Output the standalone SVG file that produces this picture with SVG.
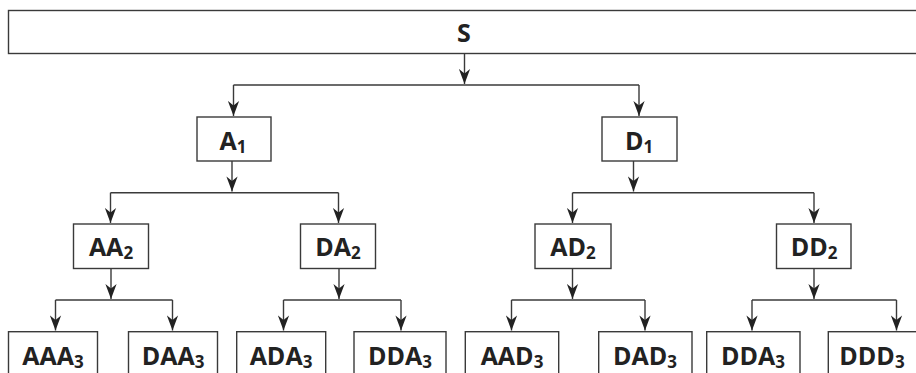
<svg xmlns="http://www.w3.org/2000/svg" width="916" height="373" viewBox="0 0 916 373">
  <style>
    .box { fill: #ffffff; stroke: #3a3a3a; stroke-width: 1.4; }
    .wire { fill: none; stroke: #3a3a3a; stroke-width: 1.4; }
    .arrow { fill: none; stroke: #3a3a3a; stroke-width: 1.4; marker-end: url(#head); }
    .label { font-family: "Open Sans", "Noto Sans", "Liberation Sans", sans-serif; font-weight: 700; font-size: 25px; fill: #222222; text-anchor: middle; }
    .sub { font-size: 17px; }
  </style>
  <defs>
    <marker id="head" viewBox="-16 -6 17 12" refX="0" refY="0" markerWidth="17" markerHeight="12" markerUnits="userSpaceOnUse" orient="auto">
      <path d="M0,0 L-15,-5.6 L-10.5,0 L-15,5.6 Z" fill="#222222"/>
    </marker>
  </defs>

  <rect width="916" height="373" fill="#ffffff"/>

  <!-- connectors -->
  <g id="connectors">
    <!-- S to level 1 -->
    <line class="arrow" x1="464.5" y1="54" x2="464.5" y2="84"/>
    <line class="wire" x1="233.5" y1="85" x2="639" y2="85"/>
    <line class="arrow" x1="233.5" y1="85" x2="233.5" y2="116"/>
    <line class="arrow" x1="639" y1="85" x2="639" y2="116"/>

    <!-- A1 to level 2 -->
    <line class="arrow" x1="232" y1="161" x2="232" y2="191.5"/>
    <line class="wire" x1="110.5" y1="192.7" x2="338.5" y2="192.7"/>
    <line class="arrow" x1="110.5" y1="192.7" x2="110.5" y2="223"/>
    <line class="arrow" x1="338.5" y1="192.7" x2="338.5" y2="223"/>

    <!-- D1 to level 2 -->
    <line class="arrow" x1="633.5" y1="161" x2="633.5" y2="191.5"/>
    <line class="wire" x1="572.5" y1="192.7" x2="814" y2="192.7"/>
    <line class="arrow" x1="572.5" y1="192.7" x2="572.5" y2="223"/>
    <line class="arrow" x1="814" y1="192.7" x2="814" y2="223"/>

    <!-- AA2 to level 3 -->
    <line class="arrow" x1="111" y1="268.5" x2="111" y2="299"/>
    <line class="wire" x1="55.5" y1="300" x2="172.5" y2="300"/>
    <line class="arrow" x1="55.5" y1="300" x2="55.5" y2="330.5"/>
    <line class="arrow" x1="172.5" y1="300" x2="172.5" y2="330.5"/>

    <!-- DA2 to level 3 -->
    <line class="arrow" x1="339" y1="268.5" x2="339" y2="299"/>
    <line class="wire" x1="283.5" y1="300" x2="401" y2="300"/>
    <line class="arrow" x1="283.5" y1="300" x2="283.5" y2="330.5"/>
    <line class="arrow" x1="401" y1="300" x2="401" y2="330.5"/>

    <!-- AD2 to level 3 -->
    <line class="arrow" x1="572.5" y1="268.5" x2="572.5" y2="299"/>
    <line class="wire" x1="511.5" y1="300" x2="645" y2="300"/>
    <line class="arrow" x1="511.5" y1="300" x2="511.5" y2="330.5"/>
    <line class="arrow" x1="645" y1="300" x2="645" y2="330.5"/>

    <!-- DD2 to level 3 -->
    <line class="arrow" x1="814" y1="268.5" x2="814" y2="299"/>
    <line class="wire" x1="752" y1="300" x2="896.5" y2="300"/>
    <line class="arrow" x1="752" y1="300" x2="752" y2="330.5"/>
    <line class="arrow" x1="896.5" y1="300" x2="896.5" y2="330.5"/>
  </g>

  <!-- root -->
  <g id="node-S">
    <rect class="box" x="8.5" y="10.5" width="930" height="43"/>
    <text class="label" x="464" y="41.5">S</text>
  </g>

  <!-- level 1 -->
  <g id="node-A1">
    <rect class="box" x="197" y="117" width="74" height="44"/>
    <text class="label" x="233" y="149.5">A<tspan class="sub" dy="3">1</tspan></text>
  </g>
  <g id="node-D1">
    <rect class="box" x="602" y="117" width="75" height="44"/>
    <text class="label" x="639" y="149.5">D<tspan class="sub" dy="3">1</tspan></text>
  </g>

  <!-- level 2 -->
  <g id="node-AA2">
    <rect class="box" x="73.5" y="224" width="75" height="44.5"/>
    <text class="label" x="111" y="256">AA<tspan class="sub" dy="3">2</tspan></text>
  </g>
  <g id="node-DA2">
    <rect class="box" x="300.5" y="224" width="75" height="44.5"/>
    <text class="label" x="338" y="256">DA<tspan class="sub" dy="3">2</tspan></text>
  </g>
  <g id="node-AD2">
    <rect class="box" x="535" y="224" width="76" height="44.5"/>
    <text class="label" x="573" y="256">AD<tspan class="sub" dy="3">2</tspan></text>
  </g>
  <g id="node-DD2">
    <rect class="box" x="776.5" y="224" width="74.5" height="44.5"/>
    <text class="label" x="814" y="256">DD<tspan class="sub" dy="3">2</tspan></text>
  </g>

  <!-- level 3 -->
  <g id="node-AAA3">
    <rect class="box" x="8.5" y="331.7" width="89" height="50"/>
    <text class="label" x="53" y="364.5">AAA<tspan class="sub" dy="3">3</tspan></text>
  </g>
  <g id="node-DAA3">
    <rect class="box" x="128.5" y="331.7" width="89" height="50"/>
    <text class="label" x="173" y="364.5">DAA<tspan class="sub" dy="3">3</tspan></text>
  </g>
  <g id="node-ADA3">
    <rect class="box" x="236.7" y="331.7" width="89" height="50"/>
    <text class="label" x="281" y="364.5">ADA<tspan class="sub" dy="3">3</tspan></text>
  </g>
  <g id="node-DDA3-left">
    <rect class="box" x="354" y="331.7" width="92" height="50"/>
    <text class="label" x="400" y="364.5">DDA<tspan class="sub" dy="3">3</tspan></text>
  </g>
  <g id="node-AAD3">
    <rect class="box" x="465.3" y="331.7" width="93.4" height="50"/>
    <text class="label" x="512" y="364.5">AAD<tspan class="sub" dy="3">3</tspan></text>
  </g>
  <g id="node-DAD3">
    <rect class="box" x="598.7" y="331.7" width="93.3" height="50"/>
    <text class="label" x="645" y="364.5">DAD<tspan class="sub" dy="3">3</tspan></text>
  </g>
  <g id="node-DDA3-right">
    <rect class="box" x="706.7" y="331.7" width="93.3" height="50"/>
    <text class="label" x="753" y="364.5">DDA<tspan class="sub" dy="3">3</tspan></text>
  </g>
  <g id="node-DDD3">
    <rect class="box" x="828.3" y="331.7" width="100" height="50"/>
    <text class="label" x="872" y="364.5">DDD<tspan class="sub" dy="3">3</tspan></text>
  </g>
</svg>
